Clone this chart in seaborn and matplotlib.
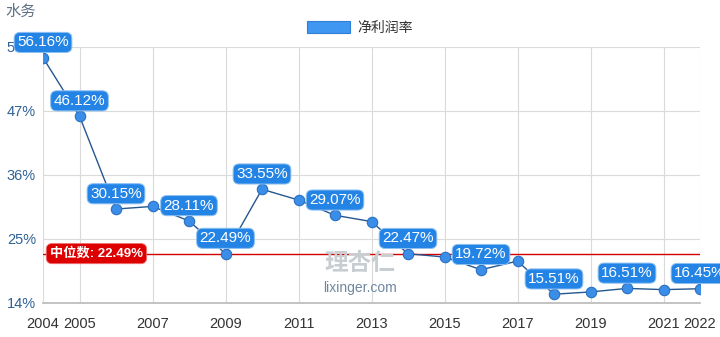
import matplotlib
matplotlib.use("Agg")
import matplotlib.pyplot as plt
import seaborn as sns
import pandas as pd

# Net profit margin (%) by year
years = list(range(2004, 2023))
margins = [56.16, 46.12, 30.15, 30.6, 28.11, 22.49, 33.55, 31.7, 29.07, 28.0,
           22.47, 21.9, 19.72, 21.2, 15.51, 15.9, 16.51, 16.3, 16.45]
labeled_years = [2004, 2005, 2006, 2008, 2009, 2010, 2012, 2014, 2016, 2018, 2020, 2022]
median_value = 22.49
x_ticks = [2004, 2005, 2007, 2009, 2011, 2013, 2015, 2017, 2019, 2021, 2022]
y_ticks = [14, 25, 36, 47, 58]
series_name = "净利润率"
title_text = "水务"

sns.set_theme(style="white")
plt.rcParams["font.family"] = ["Liberation Sans", "Noto Sans CJK SC", "DejaVu Sans"]

df = pd.DataFrame({"year": years, "margin": margins})

fig = plt.figure(figsize=(7.2, 3.37), dpi=100)
ax = fig.add_axes([43 / 720, 1 - 303 / 337, (700 - 43) / 720, (303 - 47) / 337])

sns.lineplot(data=df, x="year", y="margin", ax=ax, color="#25578F", linewidth=1.0,
             marker="o", markersize=7.5, markerfacecolor="#3A8EE8",
             markeredgecolor="#2A6FC0", markeredgewidth=0.8, legend=False, zorder=4)

ax.set_xlim(2004, 2022)
ax.set_ylim(14, 58)
ax.set_xticks(x_ticks)
ax.set_xticklabels([str(y) for y in x_ticks], color="#333333", fontsize=10.5)
ax.set_yticks(y_ticks)
ax.set_yticklabels([f"{v}%" for v in y_ticks], color="#2E6295", fontsize=10.5)
ax.tick_params(axis="x", length=0, pad=10)
ax.tick_params(axis="y", length=0, pad=5)
ax.set_xlabel("")
ax.set_ylabel("")
ax.grid(True, color="#DADADA", linewidth=0.8)
for s in ax.spines.values():
    s.set_visible(False)
ax.spines["bottom"].set_visible(True)
ax.spines["bottom"].set_color("#BBBBBB")

# Median reference line
ax.axhline(median_value, color="#D40000", linewidth=1.0, zorder=3)
ax.annotate(f"中位数: {median_value:.2f}%", xy=(2004, median_value), xytext=(5, 0),
            textcoords="offset points", ha="left", va="center", color="white",
            fontsize=9.5, fontweight="bold", zorder=6,
            bbox=dict(boxstyle="round,pad=0.28,rounding_size=0.45", fc="#DD0000",
                      ec="#F07070", lw=0.6))

# Value labels
for yr, val in zip(years, margins):
    if yr in labeled_years:
        ax.annotate(f"{val:.2f}%", xy=(yr, val), xytext=(0, 11),
                    textcoords="offset points", ha="center", va="center",
                    color="white", fontsize=11, zorder=7, annotation_clip=False,
                    bbox=dict(boxstyle="round,pad=0.2,rounding_size=0.4",
                              fc="#2384E6", ec="#8CC0F2", lw=0.7))

# Legend
ax.legend(handles=[plt.Rectangle((0, 0), 1, 1, fc="#3F97F2", ec="#2F7FD6", lw=0.8)],
          labels=[series_name], loc="center", bbox_to_anchor=(360 / 720, 1 - 28 / 337),
          bbox_transform=fig.transFigure, frameon=False, fontsize=10,
          handlelength=3.1, handleheight=0.95, handletextpad=0.5,
          borderaxespad=0.0, borderpad=0.0, labelcolor="#333333")

# Title and watermark
fig.text(5 / 720, 1 - 12 / 337, title_text, ha="left", va="center",
         color="#5E7186", fontsize=11)
fig.text(360 / 720, 1 - 264 / 337, "理杏仁", ha="center", va="center",
         color="#C8CDD2", fontsize=17, fontweight="bold", zorder=2)
fig.text(360 / 720, 1 - 288 / 337, "lixinger.com", ha="center", va="center",
         color="#6F87A0", fontsize=10, zorder=2)

fig.savefig("out.png", dpi=100)
